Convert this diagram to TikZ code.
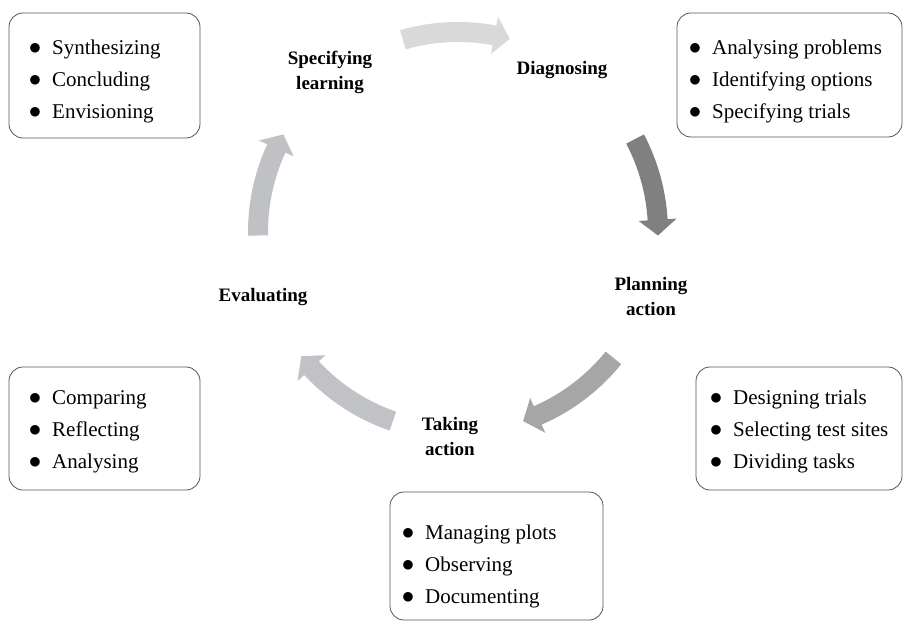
\documentclass[tikz,border=0pt]{standalone}
\usepackage{fontspec}
\setmainfont{Liberation Serif}
\usetikzlibrary{calc}
\definecolor{arTop}{HTML}{D9D9D9}
\definecolor{arRight}{HTML}{808080}
\definecolor{arBR}{HTML}{A6A6A6}
\definecolor{arBL}{HTML}{C0C2C6}
\definecolor{arLeft}{HTML}{BFC1C4}
\definecolor{boxline}{HTML}{555555}
\newcommand{\listfont}{\fontsize{21}{32}\selectfont}
\newcommand{\labfont}{\fontsize{19}{25}\selectfont\bfseries}
\newcommand{\bul}{\makebox[10pt][c]{\scalebox{1.2}{$\bullet$}}\hspace{12pt}}
% #1 start angle, #2 tip angle, #3 colour (clockwise arrow around centre)
\newcommand{\cycarrow}[3]{%
  \fill[#3] (#1:210) arc[start angle=#1, end angle=#2+4.5, radius=210]
    -- (#2+4.5:219) -- (#2:200) -- (#2+4.5:181) -- (#2+4.5:190)
    arc[start angle=#2+4.5, end angle=#1, radius=190] -- cycle;}
\tikzset{
  listbox/.style={draw=boxline, line width=0.8pt, rounded corners=14pt,
    inner sep=0pt, anchor=center},
  listtext/.style={align=left, font=\listfont, inner sep=0pt, anchor=west},
  cyclabel/.style={font=\labfont, align=center, inner sep=0pt}
}
\begin{document}
\begin{tikzpicture}[x=1pt,y=1pt]
\useasboundingbox (0,0) rectangle (910,-623);
\fill[white] (0,0) rectangle (910,-623);
% cycle arrows
\begin{scope}[shift={(458,-232)}]
  \cycarrow{106}{75}{arTop}
  \cycarrow{27.7}{-1}{arRight}
  \cycarrow{-39}{-71}{arBR}
  \cycarrow{-109}{-141.6}{arBL}
  \cycarrow{181}{150.8}{arLeft}
\end{scope}
% stage labels
\node[cyclabel] (spec) at (330,-72) {Specifying\\learning};
\node[cyclabel] (diag) at (562,-70) {Diagnosing};
\node[cyclabel] (plan) at (651,-296) {Planning\\action};
\node[cyclabel] (take) at (450,-436) {Taking\\action};
\node[cyclabel] (eval) at (263,-297) {Evaluating};
% boxes
\node[listbox, minimum width=191pt, minimum height=125pt] (bspec) at (104.5,-75.5) {};
\node[listtext] (tspec) at (30,-81.5) {\bul Synthesizing\\\bul Concluding\\\bul Envisioning};
\node[listbox, minimum width=225pt, minimum height=124pt] (bdiag) at (789.5,-75) {};
\node[listtext] (tdiag) at (690,-81.5) {\bul Analysing problems\\\bul Identifying options\\\bul Specifying trials};
\node[listbox, minimum width=191pt, minimum height=123pt] (beval) at (104.5,-428.5) {};
\node[listtext] (teval) at (30,-431.5) {\bul Comparing\\\bul Reflecting\\\bul Analysing};
\node[listbox, minimum width=206pt, minimum height=123pt] (bplan) at (799,-428.5) {};
\node[listtext] (tplan) at (711,-431.5) {\bul Designing trials\\\bul Selecting test sites\\\bul Dividing tasks};
\node[listbox, minimum width=213pt, minimum height=128pt] (btake) at (496.5,-556) {};
\node[listtext] (ttake) at (403,-566.5) {\bul Managing plots\\\bul Observing\\\bul Documenting};
\end{tikzpicture}
\end{document}
